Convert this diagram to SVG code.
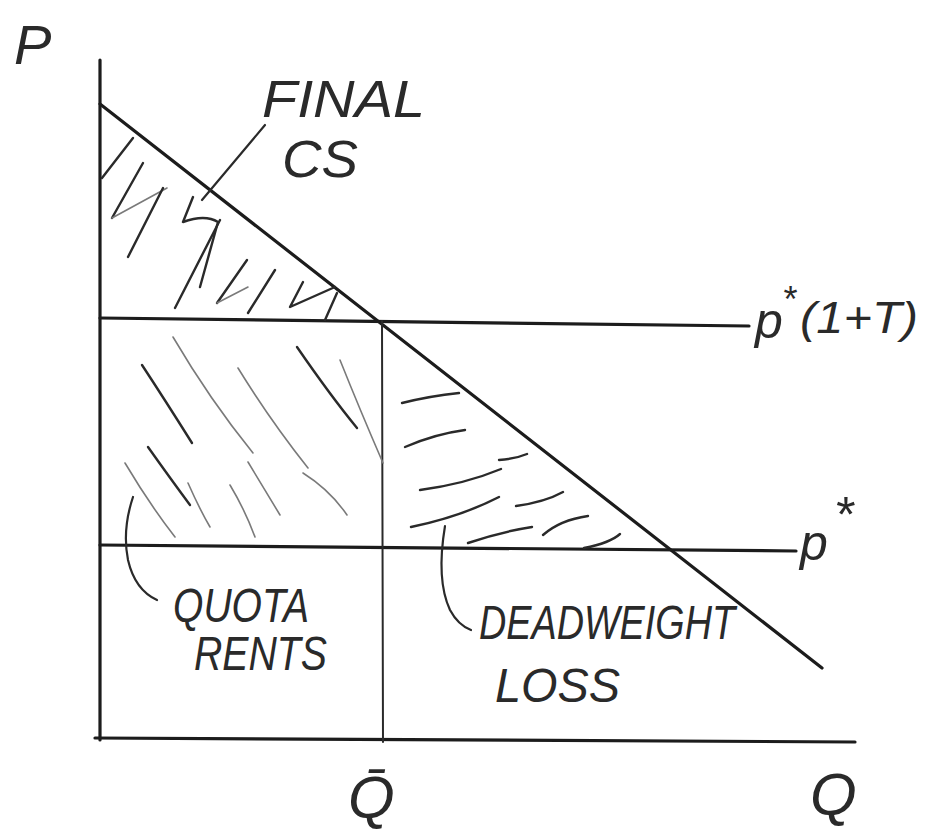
<svg xmlns="http://www.w3.org/2000/svg" width="926" height="836" viewBox="0 0 926 836">
<style>
.ax{stroke:#1c1c1c;stroke-width:3.2;fill:none;stroke-linecap:round}
.thin{stroke:#2a2a2a;stroke-width:2;fill:none;stroke-linecap:round}
.h{stroke:#2a2a2a;stroke-width:2.4;fill:none;stroke-linecap:round;stroke-linejoin:round}
.hl{stroke:#7a7a7a;stroke-width:1.6;fill:none;stroke-linecap:round}
.ptr{stroke:#2a2a2a;stroke-width:2.2;fill:none;stroke-linecap:round}
.t{font-family:"Liberation Sans","DejaVu Sans",sans-serif;font-style:italic;fill:#2a2a2a}
</style>
<rect width="926" height="836" fill="#ffffff"/>
<g id="axes">
<line class="ax" x1="100" y1="60" x2="100" y2="740"/>
<line class="ax" x1="95" y1="738" x2="855" y2="742"/>
</g>
<g id="lines">
<path class="ax" d="M100 104 L822 668"/>
<path class="ax" d="M100 318 L749 326"/>
<path class="ax" d="M100 545 L796 551"/>
<path class="thin" d="M382 321 L383 742"/>
</g>
<g id="hatch-cs">
<path class="h" d="M102 178 L133 138"/>
<path class="h" d="M112 218 L143 163"/>
<path class="hl" d="M112 218 L167 188"/>
<path class="h" d="M128 257 L163 188"/>
<path class="h" d="M193 197 L183 222 Q205 214 218 222 L200 287"/>
<path class="h" d="M175 308 L220 220"/>
<path class="h" d="M217 303 L247 260"/>
<path class="hl" d="M217 303 L248 287"/>
<path class="h" d="M248 313 L275 270"/>
<path class="h" d="M303 282 L290 307 L335 287"/>
<path class="h" d="M325 320 L337 293"/>
</g>
<g id="hatch-quota">
<path class="h" d="M142 365 Q165 400 192 443"/>
<path class="hl" d="M173 337 Q210 400 253 453"/>
<path class="hl" d="M238 368 Q270 420 308 468"/>
<path class="h" d="M297 347 Q330 395 357 428"/>
<path class="hl" d="M340 360 Q360 410 383 463"/>
<path class="h" d="M148 447 Q170 478 190 505"/>
<path class="hl" d="M125 463 Q150 505 175 537"/>
<path class="hl" d="M188 483 Q200 510 210 527"/>
<path class="hl" d="M230 485 Q245 510 255 537"/>
<path class="hl" d="M248 462 Q265 490 280 515"/>
<path class="hl" d="M303 473 Q330 490 347 515"/>
</g>
<g id="hatch-dwl">
<path class="h" d="M402 403 Q430 396 459 393"/>
<path class="h" d="M405 447 Q435 434 465 430"/>
<path class="h" d="M499 460 Q515 459 527 454"/>
<path class="h" d="M420 490 Q465 484 501 469"/>
<path class="h" d="M411 527 Q460 517 499 497"/>
<path class="h" d="M516 506 Q545 502 563 492"/>
<path class="h" d="M468 543 Q500 532 532 527"/>
<path class="h" d="M543 535 Q560 520 588 516"/>
<path class="h" d="M584 548 Q610 543 620 534"/>
</g>
<g id="pointers">
<path class="ptr" d="M265 125 L202 200"/>
<path class="ptr" d="M133 497 Q122 530 128 560 Q135 590 157 600"/>
<path class="ptr" d="M445 526 Q436 580 450 610 Q458 625 471 630"/>
</g>
<g id="labels">
<text class="t" x="14" y="64" font-size="56">P</text>
<text class="t" x="262" y="117" font-size="52" textLength="163" lengthAdjust="spacingAndGlyphs">FINAL</text>
<text class="t" x="282" y="177" font-size="52" textLength="76" lengthAdjust="spacingAndGlyphs">CS</text>
<text class="t" x="755" y="338" font-size="50">p</text>
<text class="t" x="782" y="312" font-size="36">*</text>
<text class="t" x="800" y="333" font-size="44" textLength="118" lengthAdjust="spacingAndGlyphs">(1+T)</text>
<text class="t" x="800" y="560" font-size="50">p</text>
<text class="t" x="834" y="532" font-size="50">*</text>
<text class="t" x="173" y="622" font-size="48" textLength="136" lengthAdjust="spacingAndGlyphs">QUOTA</text>
<text class="t" x="194" y="670" font-size="48" textLength="133" lengthAdjust="spacingAndGlyphs">RENTS</text>
<text class="t" x="479" y="639" font-size="48" textLength="256" lengthAdjust="spacingAndGlyphs">DEADWEIGHT</text>
<text class="t" x="495" y="702" font-size="48" textLength="125" lengthAdjust="spacingAndGlyphs">LOSS</text>
<text class="t" x="348" y="818" font-size="60">Q̄</text>
<text class="t" x="810" y="815" font-size="60">Q</text>
</g>
</svg>
